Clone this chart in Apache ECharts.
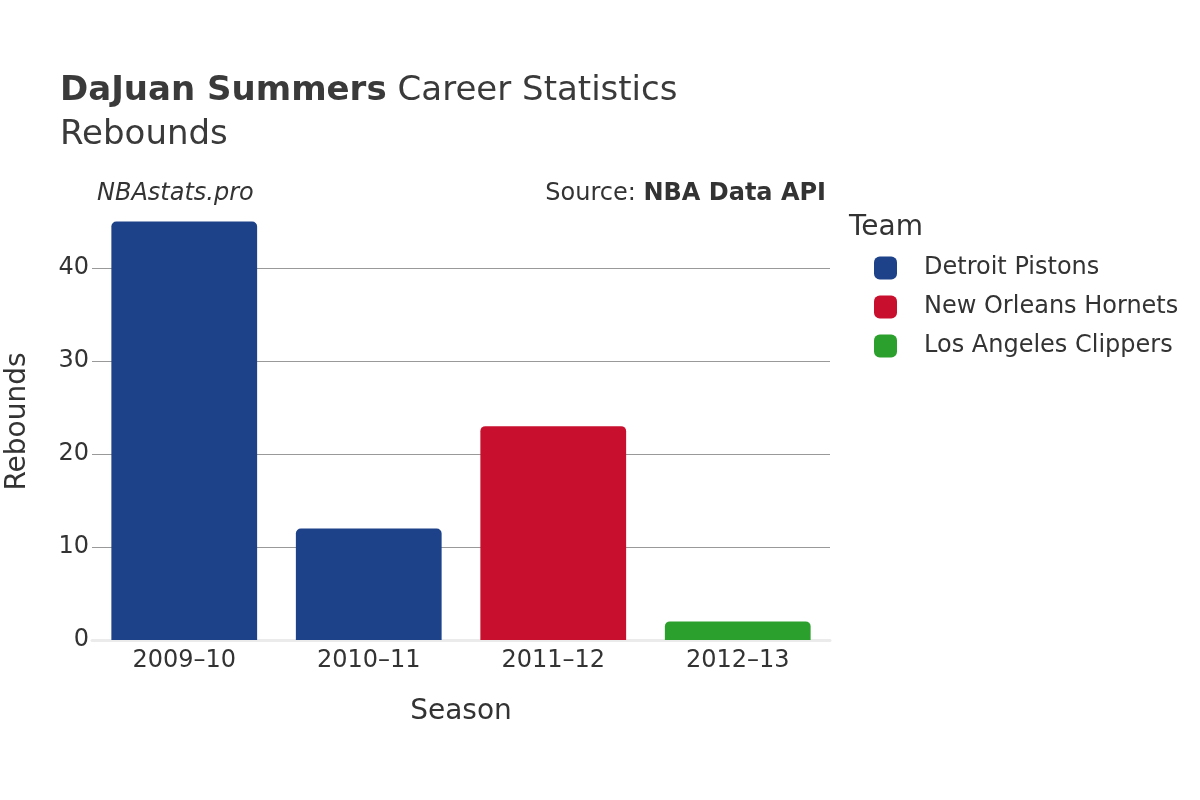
<!DOCTYPE html>
<html>
<head>
<meta charset="utf-8">
<script src="https://cdn.jsdelivr.net/npm/echarts@6/dist/echarts.min.js"></script>
<style>
  html, body { margin: 0; padding: 0; background: #fff; }
  #chart { width: 1200px; height: 800px; }
</style>
</head>
<body>
<div id="chart"></div>
<script>
var seasons = ['2009–10', '2010–11', '2011–12', '2012–13'];
var teams = ['Detroit Pistons', 'New Orleans Hornets', 'Los Angeles Clippers'];
var teamColors = ['#1d428a', '#c8102e', '#2ca02c'];
// rebounds per season, one array per team (null = no games for that team)
var pistons = [45, 12, null, null];
var hornets = [null, null, 23, null];
var clippers = [null, null, null, 2];
var teamValues = [pistons, hornets, clippers];

var font = 'DejaVu Sans';
var textColor = '#333';

var myChart = echarts.init(document.getElementById('chart'));

var series = teams.map(function (name, i) {
    return {
        name: name,
        type: 'bar',
        stack: 'season',
        barCategoryGap: '21%',
        itemStyle: {
            color: teamColors[i],
            borderRadius: [5, 5, 0, 0]
        },
        data: teamValues[i]
    };
});

myChart.setOption({
    animation: false,
    textStyle: { fontFamily: font },
    title: [
        {
            left: 60,
            top: 74,
            padding: 0,
            text: '{b|DaJuan Summers}{s| }{n|Career Statistics}',
            textStyle: {
                rich: {
                    b: { fontFamily: font, fontSize: 34, fontWeight: 'bold', color: '#3a3a3a' },
                    s: { fontFamily: font, fontSize: 34, fontWeight: 'normal', width: 11 },
                    n: { fontFamily: font, fontSize: 34, fontWeight: 'normal', color: '#3a3a3a' }
                }
            }
        },
        {
            left: 60,
            top: 118,
            padding: 0,
            text: 'Rebounds',
            textStyle: { fontFamily: font, fontSize: 34, fontWeight: 'normal', color: '#3a3a3a' }
        },
        {
            left: 97,
            top: 182,
            padding: 0,
            text: 'NBAstats.pro',
            textStyle: { fontFamily: font, fontSize: 24, fontStyle: 'italic', fontWeight: 'normal', color: textColor }
        },
        {
            right: 374,
            top: 182,
            padding: 0,
            text: '{n|Source: }{b|NBA Data API}',
            textStyle: {
                rich: {
                    n: { fontFamily: font, fontSize: 24, fontWeight: 'normal', color: textColor },
                    b: { fontFamily: font, fontSize: 24, fontWeight: 'bold', color: textColor }
                }
            }
        },
        {
            left: 849,
            top: 214,
            padding: 0,
            text: 'Team',
            textStyle: { fontFamily: font, fontSize: 28, fontWeight: 'normal', color: textColor }
        }
    ],
    legend: {
        orient: 'vertical',
        left: 874,
        top: 256,
        padding: 0,
        icon: 'roundRect',
        itemWidth: 23,
        itemHeight: 23,
        itemGap: 15,
        data: teams,
        textStyle: {
            fontFamily: font,
            fontSize: 24,
            color: textColor,
            padding: [0, 0, 0, 22]
        }
    },
    grid: {
        left: 92,
        right: 370,
        top: 203,
        bottom: 160,
        outerBoundsMode: 'none'
    },
    xAxis: {
        type: 'category',
        data: seasons,
        name: 'Season',
        nameLocation: 'middle',
        nameGap: 58,
        nameTextStyle: { fontFamily: font, fontSize: 28, color: textColor },
        axisLine: { show: true, lineStyle: { color: '#ebebeb', width: 3 } },
        axisTick: { show: false },
        axisLabel: { fontFamily: font, fontSize: 24, color: textColor, margin: 9 }
    },
    yAxis: {
        type: 'value',
        min: 0,
        max: 47,
        interval: 10,
        name: 'Rebounds',
        nameLocation: 'middle',
        nameGap: 60,
        nameTextStyle: { fontFamily: font, fontSize: 28, color: textColor },
        axisLine: { show: false },
        axisTick: { show: false },
        axisLabel: {
            fontFamily: font,
            fontSize: 24,
            color: textColor,
            margin: 3,
            showMaxLabel: false
        },
        splitLine: {
            show: true,
            lineStyle: {
                color: ['rgba(0,0,0,0)', '#999', '#999', '#999', '#999', 'rgba(0,0,0,0)'],
                width: 1
            }
        }
    },
    series: series
});

window.addEventListener('resize', function () {
    myChart.resize();
});
</script>
</body>
</html>
